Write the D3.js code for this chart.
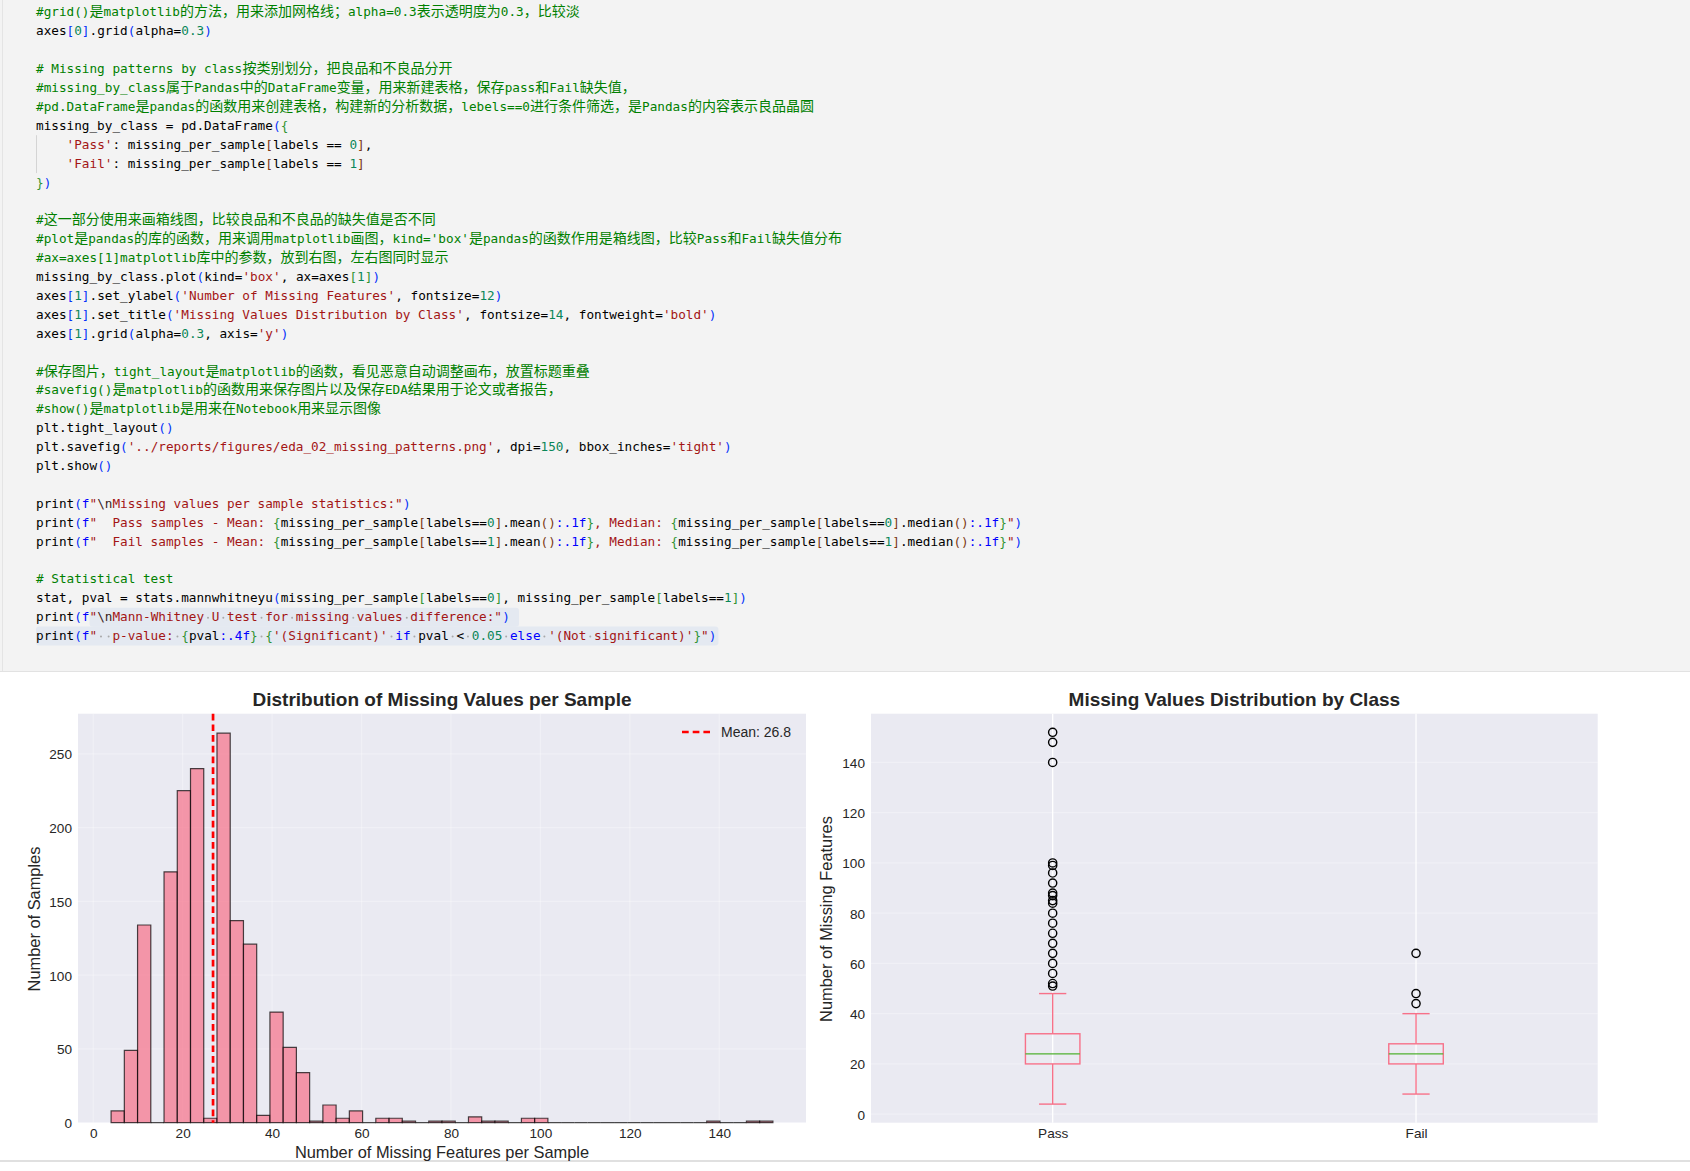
<!DOCTYPE html>
<html><head><meta charset="utf-8">
<script src="https://cdn.jsdelivr.net/npm/d3@7"></script>
<style>body{margin:0;background:#fff;} svg{display:block}</style>
</head><body><svg id="c" width="1690" height="1171"></svg>
<script>
// ---------------- DATA ----------------
const codeLines = [
  "#grid()是matplotlib的方法，用来添加网格线；alpha=0.3表示透明度为0.3，比较淡",
  "axes[0].grid(alpha=0.3)",
  "",
  "# Missing patterns by class按类别划分，把良品和不良品分开",
  "#missing_by_class属于Pandas中的DataFrame变量，用来新建表格，保存pass和Fail缺失值，",
  "#pd.DataFrame是pandas的函数用来创建表格，构建新的分析数据，lebels==0进行条件筛选，是Pandas的内容表示良品晶圆",
  "missing_by_class = pd.DataFrame({",
  "    'Pass': missing_per_sample[labels == 0],",
  "    'Fail': missing_per_sample[labels == 1]",
  "})",
  "",
  "#这一部分使用来画箱线图，比较良品和不良品的缺失值是否不同",
  "#plot是pandas的库的函数，用来调用matplotlib画图，kind='box'是pandas的函数作用是箱线图，比较Pass和Fail缺失值分布",
  "#ax=axes[1]matplotlib库中的参数，放到右图，左右图同时显示",
  "missing_by_class.plot(kind='box', ax=axes[1])",
  "axes[1].set_ylabel('Number of Missing Features', fontsize=12)",
  "axes[1].set_title('Missing Values Distribution by Class', fontsize=14, fontweight='bold')",
  "axes[1].grid(alpha=0.3, axis='y')",
  "",
  "#保存图片，tight_layout是matplotlib的函数，看见恶意自动调整画布，放置标题重叠",
  "#savefig()是matplotlib的函数用来保存图片以及保存EDA结果用于论文或者报告，",
  "#show()是matplotlib是用来在Notebook用来显示图像",
  "plt.tight_layout()",
  "plt.savefig('../reports/figures/eda_02_missing_patterns.png', dpi=150, bbox_inches='tight')",
  "plt.show()",
  "",
  String.raw`print(f"\nMissing values per sample statistics:")`,
  String.raw`print(f"  Pass samples - Mean: {missing_per_sample[labels==0].mean():.1f}, Median: {missing_per_sample[labels==0].median():.1f}")`,
  String.raw`print(f"  Fail samples - Mean: {missing_per_sample[labels==1].mean():.1f}, Median: {missing_per_sample[labels==1].median():.1f}")`,
  "",
  "# Statistical test",
  "stat, pval = stats.mannwhitneyu(missing_per_sample[labels==0], missing_per_sample[labels==1])",
  String.raw`print(f"\nMann-Whitney U test for missing values difference:")`,
  String.raw`print(f"  p-value: {pval:.4f} {'(Significant)' if pval < 0.05 else '(Not significant)'}")`
];
// selected text ranges [line, startCol, endCol]
const selections = [[32, 7, 62], [33, 0, 89]];

// histogram (50 bins between min and max)
const histBinStart = 4;
const histBinEnd = 152;
const histCounts = [8,49,134,0,170,225,240,3,264,137,121,5,75,51,34,1,12,3,8,0,
                    3,3,1,0,1,1,0,4,1,1,0,3,3,0,0,0,0,0,0,0,
                    0,0,0,0,0,1,0,0,1,1];
const histMean = 26.8;
const histXTicks = [0,20,40,60,80,100,120,140];
const histYTicks = [0,50,100,150,200,250];

// box plot
const boxClasses = ["Pass","Fail"];
const boxQ1 = [20,20];
const boxMedian = [24,24];
const boxQ3 = [32,28];
const boxWhiskerLow = [4,8];
const boxWhiskerHigh = [48,40];
const passOutliers = [152,148,140,100,99,96,92,88,87,85,84,80,76,72,68,64,60,56,52,51];
const failOutliers = [64,48,44];
const boxYTicks = [0,20,40,60,80,100,120,140];

// ---------------- DRAW ----------------
const svg = d3.select('#c');
const SANS = '"Liberation Sans", Arial, sans-serif';
const TXT = '#262626';

// ---- code cell ----
svg.append('rect').attr('x',0).attr('y',0).attr('width',1690).attr('height',671).attr('fill','#f3f3f3');
svg.append('line').attr('x1',2.5).attr('x2',2.5).attr('y1',0).attr('y2',671).attr('stroke','#e4e4e4').attr('stroke-width',1);
svg.append('line').attr('x1',0).attr('x2',1690).attr('y1',671.5).attr('y2',671.5).attr('stroke','#e2e2e2').attr('stroke-width',1.2);

const CX0 = 36, LAT = 7.645, CJKW = 14, LH = 18.9, LY0 = 12.4;
const isCJK = ch => { const c = ch.codePointAt(0); return (c >= 0x2E80 && c <= 0x9FFF) || (c >= 0xFF00 && c <= 0xFFEF) || (c>=0x3000 && c<=0x303F); };
const lineCenter = n => LY0 + LH*n;
const colX = (line, col) => { let x = CX0; for (let k=0;k<col && k<line.length;k++) x += isCJK(line[k]) ? CJKW : LAT; return x; };

// selections
selections.forEach(([ln, a, b]) => {
  const line = codeLines[ln];
  const xa = colX(line, a), xb = colX(line, b) + (ln === 32 ? 9 : 2);
  svg.append('rect').attr('x', xa).attr('y', lineCenter(ln)-9.5).attr('width', xb-xa).attr('height', 19)
    .attr('rx', 3).attr('fill', '#e4e9f1');
});
// indent guide
svg.append('line').attr('x1',36.5).attr('x2',36.5).attr('y1',lineCenter(7)-9.5).attr('y2',lineCenter(8)+9.5)
  .attr('stroke','#d4d4d4').attr('stroke-width',1);

const LEVEL = ['#0431fa','#319331','#7b3814'];
const COL = {plain:'#000000', comment:'#008000', str:'#a31515', num:'#098658', kw:'#0000ff', esc:'#3a1f1f', fmt:'#0000ff'};
const KW = new Set(['if','else','for','in','import','from','def','return','and','or','not']);
let depth = 0;
const levelColor = d => LEVEL[((d-1)%3+3)%3];

function tokenizeLine(line){
  const segs = [];
  const push = (t,c) => { if (!t) return; const last = segs[segs.length-1]; if (last && last.c === c) last.t += t; else segs.push({t, c}); };
  let i = 0; const n = line.length;
  const isId = ch => /[A-Za-z0-9_]/.test(ch);
  function readString(q){ let j = i+1; while (j<n && line[j] !== q) j++; push(line.slice(i, j+1), COL.str); i = j+1; }
  function readFString(q){
    push(q, COL.str); i++;
    while (i < n){
      const ch = line[i];
      if (ch === q){ push(q, COL.str); i++; return; }
      if (ch === '\\'){ push(line.slice(i,i+2), COL.esc); i += 2; continue; }
      if (ch === '{'){
        depth++; push('{', levelColor(depth)); i++;
        parseCode(true);
        if (line[i] === '}'){ push('}', levelColor(depth)); depth--; i++; }
        continue;
      }
      push(ch, COL.str); i++;
    }
  }
  function parseCode(inExpr){
    let rel = 0;
    while (i < n){
      const ch = line[i];
      if (!inExpr && ch === '#'){ push(line.slice(i), COL.comment); i = n; return; }
      if (inExpr && rel === 0){
        if (ch === '}') return;
        if (ch === ':'){ let j = i; while (j<n && line[j] !== '}') j++; push(line.slice(i,j), COL.fmt); i = j; return; }
      }
      if ((ch === 'f') && (line[i+1] === '"' || line[i+1] === "'") && !(i>0 && isId(line[i-1]))){
        push('f', COL.kw); i++; readFString(line[i]); continue;
      }
      if (ch === '"' || ch === "'"){ readString(ch); continue; }
      if (/[0-9]/.test(ch) && !(i>0 && isId(line[i-1]))){ let j=i; while (j<n && /[0-9.]/.test(line[j])) j++; push(line.slice(i,j), COL.num); i = j; continue; }
      if (/[A-Za-z_]/.test(ch)){ let j=i; while (j<n && isId(line[j])) j++; const w = line.slice(i,j); push(w, KW.has(w) ? COL.kw : COL.plain); i = j; continue; }
      if ('([{'.includes(ch)){ depth++; rel++; push(ch, levelColor(depth)); i++; continue; }
      if (')]}'.includes(ch)){ push(ch, levelColor(depth)); depth--; rel--; i++; continue; }
      push(ch, COL.plain); i++;
    }
  }
  parseCode(false);
  return segs;
}

const codeG = svg.append('g');
codeLines.forEach((line, ln) => {
  if (!line) return;
  const segs = tokenizeLine(line);
  const t = codeG.append('text').attr('y', lineCenter(ln) + 4).attr('xml:space','preserve')
    .style('white-space','pre');
  let x = CX0;
  segs.forEach(s => {
    let run = '', runCJK = null, runX = x;
    const flush = () => {
      if (!run) return;
      t.append('tspan').attr('x', runX).attr('fill', s.c)
        .attr('font-family', runCJK ? '"Noto Sans CJK SC", sans-serif' : '"DejaVu Sans Mono", monospace')
        .attr('font-size', runCJK ? 14 : 12.7)
        .text(run);
    };
    for (const ch of s.t){
      const c = isCJK(ch);
      if (runCJK === null || c !== runCJK){ flush(); run = ''; runCJK = c; runX = x; }
      run += ch; x += c ? CJKW : LAT;
    }
    flush();
  });
});
// whitespace dots inside selection
selections.forEach(([ln, a, b]) => {
  const line = codeLines[ln];
  for (let k=a;k<b;k++){
    if (line[k] === ' '){
      svg.append('circle').attr('cx', colX(line,k)+LAT/2).attr('cy', lineCenter(ln)+0.5).attr('r', 1).attr('fill','#a8a8a8');
    }
  }
});

// ---- bottom separator ----
svg.append('line').attr('x1',0).attr('x2',1690).attr('y1',1161).attr('y2',1161).attr('stroke','#d6d6d6').attr('stroke-width',1.5);

// ---- Histogram ----
const L = {x0:78, x1:806, y0:713.7, y1:1122.7};
const hPad = 0.05*(histBinEnd - histBinStart);
const xh = d3.scaleLinear().domain([histBinStart - hPad, histBinEnd + hPad]).range([L.x0, L.x1]);
const yh = d3.scaleLinear().domain([0, d3.max(histCounts)*1.05]).range([L.y1, L.y0]);
const binW = (histBinEnd - histBinStart)/histCounts.length;
const hg = svg.append('g');
hg.append('rect').attr('x',L.x0).attr('y',L.y0).attr('width',L.x1-L.x0).attr('height',L.y1-L.y0).attr('fill','#eaeaf2');
hg.selectAll('line.gx').data(histXTicks).join('line').attr('x1',d=>xh(d)).attr('x2',d=>xh(d)).attr('y1',L.y0).attr('y2',L.y1)
  .attr('stroke','#fff').attr('stroke-opacity',0.3).attr('stroke-width',1.3);
hg.selectAll('line.gy').data(histYTicks).join('line').attr('x1',L.x0).attr('x2',L.x1).attr('y1',d=>yh(d)).attr('y2',d=>yh(d))
  .attr('stroke','#fff').attr('stroke-opacity',0.3).attr('stroke-width',1.3);
hg.selectAll('path.bar').data(histCounts).join('path').attr('class','bar')
  .attr('d', (d,i) => {
    const a = xh(histBinStart + i*binW), b = xh(histBinStart + (i+1)*binW), y0 = yh(0), y1 = yh(d);
    return `M${a},${y0}V${y1}H${b}V${y0}Z`;
  })
  .attr('fill','#f77189').attr('fill-opacity',0.7)
  .attr('stroke','#000').attr('stroke-opacity',0.7).attr('stroke-width',1.2);
hg.append('line').attr('x1',xh(histMean)).attr('x2',xh(histMean)).attr('y1',L.y0).attr('y2',L.y1)
  .attr('stroke','#ff0000').attr('stroke-width',2.7).attr('stroke-dasharray','6.7,4');
// legend
hg.append('line').attr('x1',682).attr('x2',710).attr('y1',732).attr('y2',732)
  .attr('stroke','#ff0000').attr('stroke-width',2.7).attr('stroke-dasharray','6.7,4');
hg.append('text').attr('x',721).attr('y',737).attr('font-family',SANS).attr('font-size',14).attr('fill',TXT).text(`Mean: ${histMean}`);

function styleAxis(g){
  g.select('.domain').remove();
  g.selectAll('text').attr('font-family',SANS).attr('font-size',13.6).attr('fill',TXT);
}
svg.append('g').attr('transform',`translate(0,${L.y1})`)
  .call(d3.axisBottom(xh).tickValues(histXTicks).tickSize(0).tickPadding(5.3).tickFormat(d3.format('d')))
  .call(styleAxis);
svg.append('g').attr('transform',`translate(${L.x0},0)`)
  .call(d3.axisLeft(yh).tickValues(histYTicks).tickSize(0).tickPadding(6).tickFormat(d3.format('d')))
  .call(styleAxis).selectAll('text').attr('dy','0.36em');
svg.append('text').attr('x',(L.x0+L.x1)/2).attr('y',705.5).attr('text-anchor','middle')
  .attr('font-family',SANS).attr('font-weight','bold').attr('font-size',19).attr('fill',TXT)
  .text('Distribution of Missing Values per Sample');
svg.append('text').attr('x',(L.x0+L.x1)/2).attr('y',1158.4).attr('text-anchor','middle')
  .attr('font-family',SANS).attr('font-size',16.4).attr('fill',TXT)
  .text('Number of Missing Features per Sample');
svg.append('text').attr('transform','translate(40,919) rotate(-90)').attr('text-anchor','middle')
  .attr('font-family',SANS).attr('font-size',16.4).attr('fill',TXT)
  .text('Number of Samples');

// ---- Box plot ----
const R = {x0:871, x1:1597.7, y0:713.7, y1:1122.7};
const allBox = [...boxWhiskerLow, ...boxWhiskerHigh, ...passOutliers, ...failOutliers];
const bMin = d3.min(allBox), bMax = d3.max(allBox), bPad = 0.05*(bMax-bMin);
const yb = d3.scaleLinear().domain([bMin-bPad, bMax+bPad]).range([R.y1, R.y0]);
const xb = d3.scaleLinear().domain([0.5, boxClasses.length + 0.5]).range([R.x0, R.x1]);
const bg = svg.append('g');
bg.append('rect').attr('x',R.x0).attr('y',R.y0).attr('width',R.x1-R.x0).attr('height',R.y1-R.y0).attr('fill','#eaeaf2');
bg.selectAll('line.gy').data(boxYTicks).join('line').attr('x1',R.x0).attr('x2',R.x1).attr('y1',d=>yb(d)).attr('y2',d=>yb(d))
  .attr('stroke','#fff').attr('stroke-opacity',0.3).attr('stroke-width',1.3);
bg.selectAll('line.gx').data(boxClasses).join('line').attr('x1',(d,i)=>xb(i+1)).attr('x2',(d,i)=>xb(i+1)).attr('y1',R.y0).attr('y2',R.y1)
  .attr('stroke','#fff').attr('stroke-width',1.3);
const PINK = '#f77189', GREEN = '#50b131';
const bw = 0.15;
const outl = [passOutliers, failOutliers];
boxClasses.forEach((c, i) => {
  const p = i+1, cx = xb(p);
  const xl = xb(p - bw/2), xr = xb(p + bw/2), cl = xb(p - bw/4), cr = xb(p + bw/4);
  const g = bg.append('g').attr('fill','none').attr('stroke-width',1.4);
  g.append('line').attr('x1',cx).attr('x2',cx).attr('y1',yb(boxQ1[i])).attr('y2',yb(boxWhiskerLow[i])).attr('stroke',PINK);
  g.append('line').attr('x1',cx).attr('x2',cx).attr('y1',yb(boxQ3[i])).attr('y2',yb(boxWhiskerHigh[i])).attr('stroke',PINK);
  g.append('line').attr('x1',cl).attr('x2',cr).attr('y1',yb(boxWhiskerLow[i])).attr('y2',yb(boxWhiskerLow[i])).attr('stroke',PINK);
  g.append('line').attr('x1',cl).attr('x2',cr).attr('y1',yb(boxWhiskerHigh[i])).attr('y2',yb(boxWhiskerHigh[i])).attr('stroke',PINK);
  g.append('rect').attr('x',xl).attr('y',yb(boxQ3[i])).attr('width',xr-xl).attr('height',yb(boxQ1[i])-yb(boxQ3[i])).attr('stroke',PINK);
  g.append('line').attr('x1',xl).attr('x2',xr).attr('y1',yb(boxMedian[i])).attr('y2',yb(boxMedian[i])).attr('stroke',GREEN);
  g.selectAll('circle').data(outl[i]).join('circle').attr('cx',cx).attr('cy',d=>yb(d)).attr('r',4.1)
    .attr('stroke','#000').attr('stroke-width',1.4).attr('fill','none');
});
svg.append('g').attr('transform',`translate(0,${R.y1})`)
  .call(d3.axisBottom(xb).tickValues(boxClasses.map((d,i)=>i+1)).tickSize(0).tickPadding(5.3).tickFormat((d)=>boxClasses[d-1]))
  .call(styleAxis);
svg.append('g').attr('transform',`translate(${R.x0},0)`)
  .call(d3.axisLeft(yb).tickValues(boxYTicks).tickSize(0).tickPadding(6).tickFormat(d3.format('d')))
  .call(styleAxis).selectAll('text').attr('dy','0.36em');
svg.append('text').attr('x',(R.x0+R.x1)/2).attr('y',705.5).attr('text-anchor','middle')
  .attr('font-family',SANS).attr('font-weight','bold').attr('font-size',19).attr('fill',TXT)
  .text('Missing Values Distribution by Class');
svg.append('text').attr('transform','translate(831.7,919) rotate(-90)').attr('text-anchor','middle')
  .attr('font-family',SANS).attr('font-size',16.4).attr('fill',TXT)
  .text('Number of Missing Features');
</script>
</body></html>
